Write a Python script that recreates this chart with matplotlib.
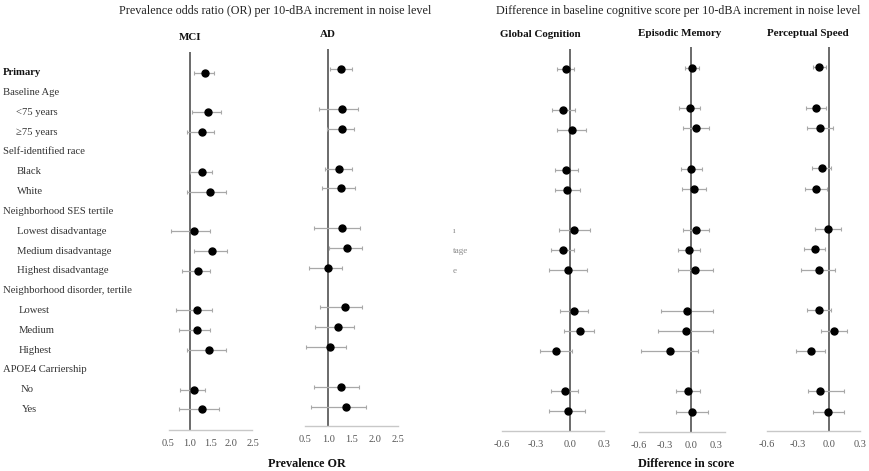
import matplotlib
matplotlib.use("Agg")
import matplotlib.pyplot as plt
import numpy as np

plt.rcParams['font.family'] = ['Liberation Serif', 'DejaVu Serif']

# ---------------- data ----------------
row_labels = ["Primary", "Baseline Age", "<75 years", "\u226575 years",
              "Self-identified race", "Black", "White",
              "Neighborhood SES tertile", "Lowest disadvantage",
              "Medium disadvantage", "Highest disadvantage",
              "Neighborhood disorder, tertile", "Lowest", "Medium", "Highest",
              "APOE4 Carriership", "No", "Yes"]
# rows that carry estimates (header rows have none)
est_rows = [0, 2, 3, 5, 6, 8, 9, 10, 12, 13, 14, 16, 17]

mci_est = [1.38, 1.44, 1.29, 1.29, 1.48, 1.10, 1.54, 1.20, 1.18, 1.17, 1.46, 1.10, 1.30]
mci_lo  = [1.11, 1.05, 0.93, 1.01, 0.95, 0.55, 1.10, 0.82, 0.67, 0.75, 0.95, 0.77, 0.74]
mci_hi  = [1.59, 1.75, 1.58, 1.53, 1.87, 1.48, 1.90, 1.49, 1.53, 1.48, 1.86, 1.36, 1.70]

ad_est = [1.28, 1.29, 1.29, 1.24, 1.27, 1.29, 1.41, 1.00, 1.35, 1.22, 1.03, 1.27, 1.38]
ad_lo  = [1.03, 0.80, 0.98, 0.92, 0.86, 0.70, 1.01, 0.58, 0.82, 0.72, 0.53, 0.70, 0.62]
ad_hi  = [1.50, 1.64, 1.55, 1.51, 1.58, 1.69, 1.72, 1.30, 1.72, 1.56, 1.38, 1.67, 1.82]

gc_est = [-0.038, -0.059, 0.015, -0.032, -0.024, 0.038, -0.065, -0.018, 0.035, 0.085, -0.126, -0.047, -0.021]
gc_lo  = [-0.112, -0.159, -0.115, -0.132, -0.135, -0.097, -0.170, -0.188, -0.085, -0.053, -0.264, -0.167, -0.182]
gc_hi  = [0.038, 0.047, 0.138, 0.068, 0.085, 0.173, 0.038, 0.147, 0.159, 0.214, 0.015, 0.070, 0.129]

em_est = [0.012, -0.007, 0.063, 0.008, 0.039, 0.063, -0.015, 0.055, -0.038, -0.058, -0.244, -0.035, 0.020]
em_lo  = [-0.070, -0.135, -0.093, -0.112, -0.105, -0.093, -0.143, -0.143, -0.344, -0.384, -0.577, -0.174, -0.166]
em_hi  = [0.097, 0.113, 0.209, 0.128, 0.179, 0.209, 0.113, 0.256, 0.260, 0.260, 0.086, 0.113, 0.206]

ps_est = [-0.093, -0.124, -0.086, -0.070, -0.124, -0.010, -0.137, -0.099, -0.096, 0.051, -0.172, -0.083, -0.006]
ps_lo  = [-0.156, -0.223, -0.207, -0.166, -0.230, -0.137, -0.239, -0.265, -0.211, -0.080, -0.313, -0.201, -0.156]
ps_hi  = [-0.026, -0.029, 0.038, 0.022, -0.016, 0.118, -0.035, 0.061, 0.022, 0.175, -0.035, 0.147, 0.147]

or_ticks = [0.5, 1.0, 1.5, 2.0, 2.5]
diff_ticks = [-0.6, -0.3, 0.0, 0.3]

panel_titles = ["MCI", "AD", "Global Cognition", "Episodic Memory", "Perceptual Speed"]

# ---------------- layout (pixels) ----------------
W, H = 869, 471
fig = plt.figure(figsize=(W / 100, H / 100), dpi=100)

def fx(px):
    return px / W

def fy(py):
    return 1 - py / H

panels = [
    dict(x0=168.5, x1=252.5, xlim=(0.5, 2.5), top=51.7, axis=429.7, r0=72.7, r17=409.5,
         title=(190, 37.7), ref=1.0, ticks=or_ticks, fmt="{:.1f}",
         est=mci_est, lo=mci_lo, hi=mci_hi),
    dict(x0=305, x1=398, xlim=(0.5, 2.5), top=49.3, axis=425.7, r0=69.3, r17=406.7,
         title=(328, 34.7), ref=1.0, ticks=or_ticks, fmt="{:.1f}",
         est=ad_est, lo=ad_lo, hi=ad_hi),
    dict(x0=501.7, x1=604, xlim=(-0.6, 0.3), top=49.3, axis=430.7, r0=69.3, r17=411,
         title=(540.7, 34.7), ref=0.0, ticks=diff_ticks, fmt="{:.1f}",
         est=gc_est, lo=gc_lo, hi=gc_hi),
    dict(x0=639, x1=725, xlim=(-0.6, 0.4), top=47.3, axis=431.7, r0=67.7, r17=411.7,
         title=(679.3, 33.7), ref=0.0, ticks=diff_ticks, fmt="{:.1f}",
         est=em_est, lo=em_lo, hi=em_hi),
    dict(x0=766.7, x1=860, xlim=(-0.6, 0.3), top=46.7, axis=430.7, r0=67, r17=411.7,
         title=(808.3, 33.7), ref=0.0, ticks=diff_ticks, fmt="{:.1f}",
         est=ps_est, lo=ps_lo, hi=ps_hi),
]

grey_err = "#a8a8a8"
for name, p in zip(panel_titles, panels):
    ax = fig.add_axes([fx(p["x0"]), fy(p["axis"]), fx(p["x1"] - p["x0"]),
                       (p["axis"] - p["top"]) / H])
    s = (p["r17"] - p["r0"]) / 17.0
    ax.set_ylim((p["axis"] - p["r0"]) / s, (p["top"] - p["r0"]) / s)
    ax.set_xlim(*p["xlim"])
    est = np.array(p["est"])
    lo = np.array(p["lo"])
    hi = np.array(p["hi"])
    ax.axvline(p["ref"], color="#6a6a6a", lw=1.4, zorder=1)
    ax.errorbar(est, est_rows, xerr=[est - lo, hi - est], fmt="none",
                ecolor=grey_err, elinewidth=0.9, capsize=1.6, capthick=0.8, zorder=2)
    ax.plot(est, est_rows, "o", color="black", markersize=5.0, zorder=3)
    for sp in ["top", "right", "left"]:
        ax.spines[sp].set_visible(False)
    ax.spines["bottom"].set_color("#c8c8c8")
    ax.spines["bottom"].set_linewidth(1.0)
    ax.set_yticks([])
    ax.set_xticks(p["ticks"])
    ax.set_xticklabels([p["fmt"].format(t) for t in p["ticks"]])
    ax.tick_params(axis="x", length=0, pad=7, labelsize=7.4, labelcolor="#555555")
    ax.patch.set_alpha(0)
    fig.text(fx(p["title"][0]), fy(p["title"][1]), name, ha="center", va="center",
             fontsize=7.9, fontweight="bold", color="#111111")

# row labels
indent_px = [3, 3, 16, 16, 3, 17, 17, 3, 17, 17, 17, 3, 19, 19, 19, 3, 21, 22]
r0, r17 = 72.7, 409.5
for i, (lab, ind) in enumerate(zip(row_labels, indent_px)):
    y = r0 + (r17 - r0) * i / 17.0
    fig.text(fx(ind), fy(y), lab, ha="left", va="center", fontsize=7.7,
             color="#111111" if i == 0 else "#333333",
             fontweight="bold" if i == 0 else "normal")

# leftover label fragments visible in the middle of the figure
for txt, y in [("\u0131", 231), ("tage", 250.7), ("e", 270.7)]:
    fig.text(fx(452.5), fy(y), txt, ha="left", va="center", fontsize=6.6, color="#8a8a8a")

# titles
fig.text(fx(275), fy(11), "Prevalence odds ratio (OR) per 10-dBA increment in noise level",
         ha="center", va="center", fontsize=8.7, color="#222222")
fig.text(fx(678), fy(11), "Difference in baseline cognitive score per 10-dBA increment in noise level",
         ha="center", va="center", fontsize=8.7, color="#222222")
fig.text(fx(307), fy(463.7), "Prevalence OR", ha="center", va="center",
         fontsize=8.7, fontweight="bold", color="#111111")
fig.text(fx(686.5), fy(464.3), "Difference in score", ha="center", va="center",
         fontsize=8.7, fontweight="bold", color="#111111")

fig.savefig("out.png", dpi=100)
